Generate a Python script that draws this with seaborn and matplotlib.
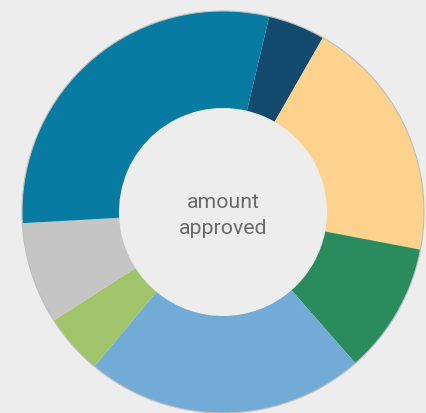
import matplotlib
matplotlib.use("Agg")
import matplotlib.pyplot as plt
import seaborn as sns

labels = ["navy", "peach", "green", "light blue", "light green", "gray", "blue"]
values = [16.5, 71, 38, 81, 17.5, 29.5, 106.5]
colors = ["#124b6e", "#fdd28c", "#2a8c5c", "#72acd6", "#9fc46a", "#c5c5c5", "#087ba2"]
center_label = "amount\napproved"

sns.set_theme(style="white", rc={"figure.facecolor": "#ededed", "axes.facecolor": "#ededed"})
plt.rcParams["font.family"] = ["Roboto", "DejaVu Sans"]

W, H = 427, 414
fig = plt.figure(figsize=(W / 100, H / 100), dpi=100)
ax = fig.add_axes([0, 0, 1, 1])

cx, cy, R, r = 223, H - 213, 201, 104
ax.pie(values, colors=colors, startangle=90 - 13.3, counterclock=False,
       center=(cx, cy), radius=R, frame=True,
       wedgeprops=dict(width=R - r, edgecolor="none", linewidth=0))
ax.set_xlim(0, W)
ax.set_ylim(0, H)
ax.set_aspect("auto")
ax.axis("off")
ax.add_patch(plt.Circle((cx, cy), R, fill=False, edgecolor="#bdbdbd", linewidth=0.8))
ax.text(cx, H - 215.5, center_label, ha="center", va="center", fontsize=15.3,
        color="#6a6a6a", linespacing=1.42)

fig.savefig("out.png", dpi=100, facecolor="#ededed")
